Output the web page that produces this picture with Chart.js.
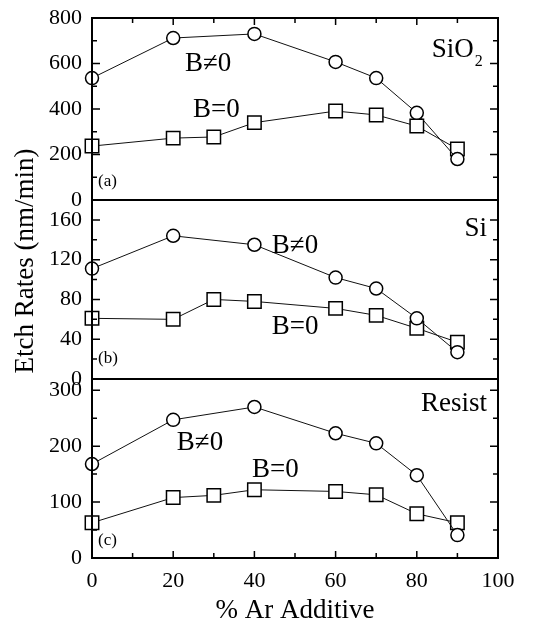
<!DOCTYPE html>
<html lang="en">
<head>
<meta charset="UTF-8" />
<title>Etch Rates vs % Ar Additive</title>
<script src="https://cdn.jsdelivr.net/npm/chart.js"></script>
<style>
  body { margin: 0; background: #fff; }
  #wrap { position: relative; width: 535px; height: 627px; }
  #wrap canvas { position: absolute; left: 0; top: 0; }
</style>
</head>
<body>
<div id="wrap">
  <canvas id="panelA" width="535" height="627"></canvas>
  <canvas id="panelB" width="535" height="627"></canvas>
  <canvas id="panelC" width="535" height="627"></canvas>
</div>
<script>
// % Ar additive for each series
const arWithB = [0, 20, 40, 60, 70, 80, 90];
const arNoB = [0, 20, 30, 40, 60, 70, 80, 90];

// (a) SiO2
const sio2WithB = [536, 712, 730, 607, 536, 383, 180];
const sio2NoB = [237, 272, 277, 340, 391, 374, 325, 224];
// (b) Si
const siWithB = [111, 144, 135, 102, 91, 61, 27];
const siNoB = [61, 60, 80, 78, 71, 64, 51, 37];
// (c) Resist
const resistWithB = [168, 247, 270, 223, 205, 148, 41];
const resistNoB = [63, 108, 112, 122, 119, 113, 79, 63];

// ticks
const xTicks = [0, 20, 40, 60, 80, 100];
const xMinor = [10, 30, 50, 70, 90];
const yTicksA = [0, 200, 400, 600, 800];
const yMinorA = [100, 300, 500, 700];
const yTicksB = [0, 40, 80, 120, 160];
const yMinorB = [20, 60, 100, 140];
const yTicksC = [0, 100, 200, 300];
const yMinorC = [50, 150, 250];

const serif = '"Liberation Serif", "Times New Roman", serif';

// border, inward ticks and text labels
const framePlugin = {
  id: 'frame',
  afterDraw(chart, args, opts) {
    const { ctx, chartArea: a } = chart;
    const x = chart.scales.x, y = chart.scales.y;
    ctx.save();
    ctx.strokeStyle = '#000';
    ctx.lineWidth = 2;
    ctx.strokeRect(a.left, a.top, a.right - a.left, a.bottom - a.top);

    ctx.lineWidth = 1.5;
    ctx.beginPath();
    const tickY = (vals, len) => vals.forEach(v => {
      const py = y.getPixelForValue(v);
      ctx.moveTo(a.left, py); ctx.lineTo(a.left + len, py);
      ctx.moveTo(a.right, py); ctx.lineTo(a.right - len, py);
    });
    tickY(opts.yMajor, 8);
    tickY(opts.yMinor, 5);
    const tickX = (vals, len) => vals.forEach(v => {
      const px = x.getPixelForValue(v);
      if (opts.topTicks) { ctx.moveTo(px, a.top); ctx.lineTo(px, a.top + len); }
      if (opts.bottomTicks) { ctx.moveTo(px, a.bottom); ctx.lineTo(px, a.bottom - len); }
    });
    tickX(xTicks, 7);
    tickX(xMinor, 5);
    ctx.stroke();

    ctx.fillStyle = '#000';
    ctx.textBaseline = 'middle';
    opts.labels.forEach(l => {
      ctx.font = l.size + 'px ' + serif;
      ctx.textAlign = l.align || 'left';
      const px = x.getPixelForValue(l.x), py = y.getPixelForValue(l.y);
      ctx.fillText(l.text, px, py);
      if (l.sub) {
        const w = ctx.measureText(l.text).width;
        const sx = l.align === 'right' ? px : px + w;
        ctx.font = Math.round(l.size * 0.6) + 'px ' + serif;
        ctx.textAlign = 'left';
        ctx.fillText(l.sub, sx + 1, py + l.size * 0.45);
      }
    });

    if (opts.yTitle) {
      ctx.translate(26, 261);
      ctx.rotate(-Math.PI / 2);
      ctx.font = '27px ' + serif;
      ctx.textAlign = 'center';
      ctx.fillText(opts.yTitle, 0, 0);
    }
    ctx.restore();
  }
};

function pts(xs, ys) {
  return xs.map((v, i) => ({ x: v, y: ys[i] }));
}

function makePanel(id, withB, noB, yMax, yMajor, yMinor, padTop, padBottom, showX, frameOpts) {
  return new Chart(document.getElementById(id), {
    type: 'line',
    data: {
      datasets: [
        {
          label: 'B≠0',
          data: pts(arWithB, withB),
          borderColor: '#111',
          borderWidth: 1,
          pointStyle: 'circle',
          pointRadius: 6.5,
          pointBorderWidth: 1.5,
          pointBackgroundColor: '#fff',
          pointBorderColor: '#000',
          clip: false
        },
        {
          label: 'B=0',
          data: pts(arNoB, noB),
          borderColor: '#111',
          borderWidth: 1,
          pointStyle: 'rect',
          pointRadius: 9.5,
          pointBorderWidth: 1.5,
          pointBackgroundColor: '#fff',
          pointBorderColor: '#000',
          clip: false
        }
      ]
    },
    options: {
      responsive: false,
      animation: false,
      devicePixelRatio: 1,
      layout: { padding: { top: padTop, bottom: padBottom, left: 0, right: 37 } },
      plugins: {
        legend: { display: false },
        tooltip: { enabled: false },
        frame: Object.assign({ yMajor: yMajor, yMinor: yMinor }, frameOpts)
      },
      scales: {
        x: {
          type: 'linear',
          min: 0,
          max: 100,
          display: showX,
          afterBuildTicks: s => { s.ticks = xTicks.map(v => ({ value: v })); },
          afterFit: s => { s.height = showX ? 69 : 0; },
          grid: { display: false, drawTicks: false },
          border: { display: false },
          ticks: { color: '#000', font: { family: serif, size: 22 }, padding: 10, maxRotation: 0 },
          title: {
            display: true,
            text: '% Ar Additive',
            color: '#000',
            font: { family: serif, size: 27 },
            padding: { top: 0, bottom: 0 }
          }
        },
        y: {
          type: 'linear',
          min: 0,
          max: yMax,
          afterBuildTicks: s => { s.ticks = yMajor.map(v => ({ value: v })); },
          afterFit: s => { s.width = 92; s.paddingTop = 0; s.paddingBottom = 0; },
          grid: { display: false, drawTicks: false },
          border: { display: false },
          ticks: { color: '#000', font: { family: serif, size: 22 }, padding: 10 }
        }
      }
    },
    plugins: [framePlugin]
  });
}

makePanel('panelA', sio2WithB, sio2NoB, 800, yTicksA, yMinorA, 18, 427, false, {
  topTicks: true,
  labels: [
    { text: 'B≠0', x: 22.9, y: 598, size: 27 },
    { text: 'B=0', x: 24.9, y: 396, size: 27 },
    { text: '(a)', x: 1.5, y: 79, size: 17 },
    { text: 'SiO', x: 83.7, y: 660, size: 27, sub: '2' }
  ]
});

makePanel('panelB', siWithB, siNoB, 180, yTicksB, yMinorB, 200, 248, false, {
  yTitle: 'Etch Rates (nm/min)',
  labels: [
    { text: 'B≠0', x: 44.3, y: 134, size: 27 },
    { text: 'B=0', x: 44.3, y: 52, size: 27 },
    { text: '(b)', x: 1.5, y: 21, size: 17 },
    { text: 'Si', x: 97.3, y: 151, size: 27, align: 'right' }
  ]
});

makePanel('panelC', resistWithB, resistNoB, 320, yTicksC, yMinorC, 379, 0, true, {
  bottomTicks: true,
  labels: [
    { text: 'B≠0', x: 20.9, y: 206, size: 27 },
    { text: 'B=0', x: 39.4, y: 157, size: 27 },
    { text: '(c)', x: 1.5, y: 32, size: 17 },
    { text: 'Resist', x: 97.3, y: 275, size: 27, align: 'right' }
  ]
});
</script>
</body>
</html>
